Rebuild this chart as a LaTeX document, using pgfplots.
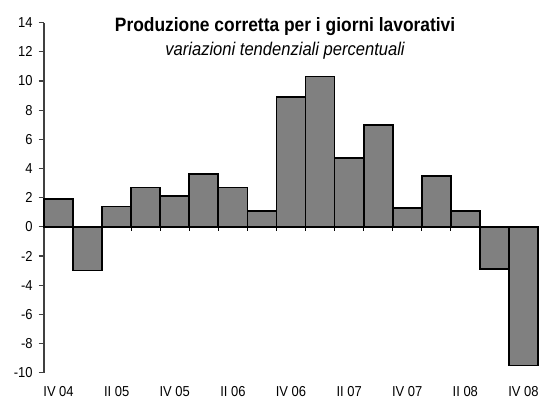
\documentclass[border=0pt]{standalone}
\usepackage{fontspec}
\setmainfont{Liberation Sans}[FakeStretch=0.9]
\usepackage{pgfplots}
\pgfplotsset{compat=1.18}
\begin{document}
\begin{tikzpicture}
\begin{axis}[
  name=ax,
  scale only axis,
  width=370.5pt, height=262.5pt,
  xmin=-0.5, xmax=16.5,
  ymin=-10, ymax=14,
  ytick={-10,-8,...,14},
  xtick={0,2,...,16},
  xticklabels={IV 04, II 05, IV 05, II 06, IV 06, II 07, IV 07, II 08, IV 08},
  axis x line*=bottom, axis y line*=left,
  x axis line style={draw=none},
  y axis line style={draw=black!75, line width=0.8pt},
  xtick style={draw=none},
  ytick style={draw=black!75, line width=0.8pt},
  tick align=outside,
  major tick length=4pt,
  tick label style={font=\fontsize{10.8}{12}\selectfont},
  /pgf/number format/assume math mode=true,
  yticklabel style={xshift=-1pt},
  xticklabel style={yshift=-3pt},
  clip=false,
]
\addplot[ybar, bar width=1, fill=black!50, draw=black, line width=1.3pt] coordinates {
(0,1.9) (1,-3.0) (2,1.4) (3,2.7) (4,2.1) (5,3.6) (6,2.7) (7,1.1) (8,8.9)
(9,10.3) (10,4.7) (11,7.0) (12,1.3) (13,3.5) (14,1.1) (15,-2.9) (16,-9.5)
};
\draw[line width=1.3pt] (axis cs:-0.5,0) -- (axis cs:16.5,0);
\pgfplotsinvokeforeach{0.5,1.5,...,15.5}{
  \draw[line width=0.8pt] (axis cs:#1,0) -- ([yshift=-3.5pt]axis cs:#1,0);
}
\node[font=\bfseries\fontsize{14.5}{16}\selectfont, anchor=center] at (rel axis cs:0.488,0.988) {Produzione corretta per i giorni lavorativi};
\node[font=\itshape\fontsize{13.8}{15}\selectfont, anchor=center] at (rel axis cs:0.488,0.919) {variazioni tendenziali percentuali};
\end{axis}
\pgfresetboundingbox
\path ([xshift=-33pt,yshift=-22.7pt]ax.south west) rectangle ([xshift=0.75pt,yshift=17pt]ax.north east);
\end{tikzpicture}
\end{document}
